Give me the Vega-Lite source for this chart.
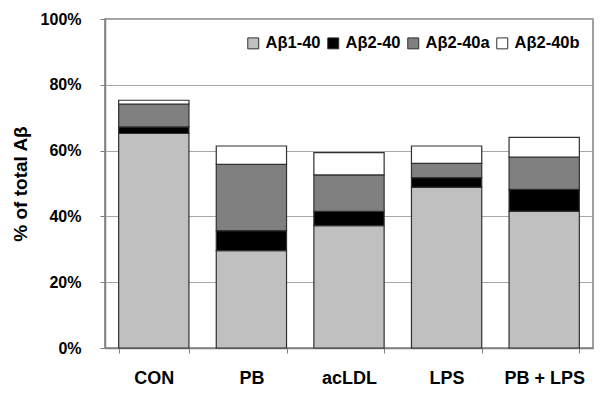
{
  "$schema": "https://vega.github.io/schema/vega-lite/v6.json",
  "autosize": "none",
  "padding": {"left": 105, "top": 19, "right": 7, "bottom": 53},
  "width": 488,
  "height": 329,
  "background": "white",
  "config": {
    "font": "Liberation Sans",
    "view": {"stroke": "#808080", "strokeWidth": 1.5}
  },
  "data": {
    "values": [
      {"group": "CON", "species": "Aβ1-40", "k": 1, "value": 65.2},
      {"group": "CON", "species": "Aβ2-40", "k": 2, "value": 2.0},
      {"group": "CON", "species": "Aβ2-40a", "k": 3, "value": 6.9},
      {"group": "CON", "species": "Aβ2-40b", "k": 4, "value": 1.2},
      {"group": "PB", "species": "Aβ1-40", "k": 1, "value": 29.6},
      {"group": "PB", "species": "Aβ2-40", "k": 2, "value": 6.1},
      {"group": "PB", "species": "Aβ2-40a", "k": 3, "value": 20.1},
      {"group": "PB", "species": "Aβ2-40b", "k": 4, "value": 5.6},
      {"group": "acLDL", "species": "Aβ1-40", "k": 1, "value": 37.2},
      {"group": "acLDL", "species": "Aβ2-40", "k": 2, "value": 4.3},
      {"group": "acLDL", "species": "Aβ2-40a", "k": 3, "value": 11.1},
      {"group": "acLDL", "species": "Aβ2-40b", "k": 4, "value": 6.8},
      {"group": "LPS", "species": "Aβ1-40", "k": 1, "value": 48.8},
      {"group": "LPS", "species": "Aβ2-40", "k": 2, "value": 3.0},
      {"group": "LPS", "species": "Aβ2-40a", "k": 3, "value": 4.3},
      {"group": "LPS", "species": "Aβ2-40b", "k": 4, "value": 5.3},
      {"group": "PB + LPS", "species": "Aβ1-40", "k": 1, "value": 41.5},
      {"group": "PB + LPS", "species": "Aβ2-40", "k": 2, "value": 6.7},
      {"group": "PB + LPS", "species": "Aβ2-40a", "k": 3, "value": 9.8},
      {"group": "PB + LPS", "species": "Aβ2-40b", "k": 4, "value": 6.0}
    ]
  },
  "mark": {"type": "bar", "stroke": "#303030", "strokeWidth": 1.2},
  "encoding": {
    "x": {
      "field": "group",
      "type": "nominal",
      "sort": ["CON", "PB", "acLDL", "LPS", "PB + LPS"],
      "scale": {"paddingInner": 0.28, "paddingOuter": 0.14},
      "axis": {
        "title": null,
        "labelAngle": 0,
        "labelFont": "Liberation Sans",
        "labelFontWeight": "bold",
        "labelFontSize": 18,
        "labelColor": "black",
        "labelPadding": 16,
        "tickBand": "extent",
        "tickSize": 5,
        "tickColor": "#808080",
        "domainColor": "#808080",
        "domainWidth": 1.5
      }
    },
    "y": {
      "field": "value",
      "type": "quantitative",
      "stack": "zero",
      "scale": {"domain": [0, 100], "nice": false},
      "axis": {
        "title": "% of total Aβ",
        "titleFont": "Liberation Sans",
        "titleFontWeight": "bold",
        "titleFontSize": 19,
        "titleColor": "black",
        "titlePadding": 10,
        "values": [0, 20, 40, 60, 80, 100],
        "labelExpr": "datum.value + '%'",
        "labelFont": "Liberation Sans",
        "labelFontWeight": "bold",
        "labelFontSize": 16,
        "labelColor": "black",
        "labelPadding": 19,
        "tickSize": 5,
        "tickColor": "#808080",
        "domainColor": "#808080",
        "domainWidth": 1.5,
        "gridColor": "#a8a8a8",
        "gridWidth": 1
      }
    },
    "color": {
      "field": "species",
      "type": "nominal",
      "scale": {
        "domain": ["Aβ1-40", "Aβ2-40", "Aβ2-40a", "Aβ2-40b"],
        "range": ["#c0c0c0", "#000000", "#808080", "#ffffff"]
      },
      "legend": {
        "title": null,
        "orient": "none",
        "direction": "horizontal",
        "legendX": 140,
        "legendY": 16,
        "symbolType": "square",
        "symbolSize": 120,
        "symbolStrokeColor": "#303030",
        "symbolStrokeWidth": 1,
        "labelFont": "Liberation Sans",
        "labelFontWeight": "bold",
        "labelFontSize": 16.5,
        "labelColor": "black",
        "labelOffset": 4,
        "columnPadding": 4
      }
    },
    "order": {"field": "k", "type": "quantitative", "sort": "ascending"}
  }
}
